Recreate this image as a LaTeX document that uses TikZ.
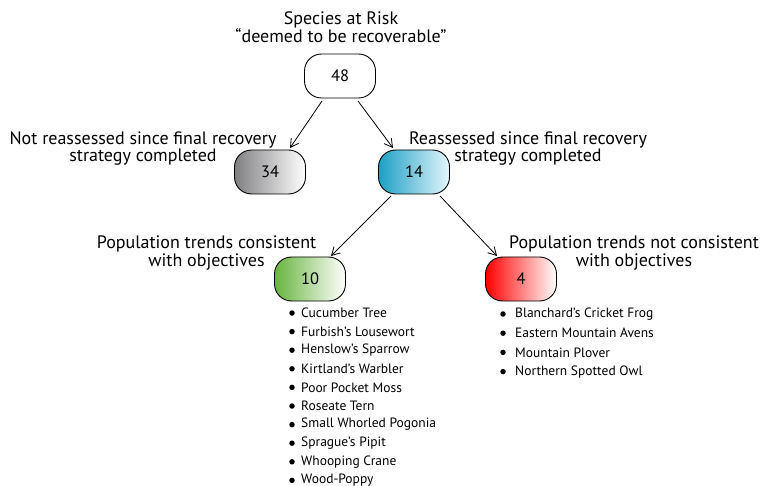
\documentclass[tikz,border=0pt]{standalone}
\usepackage{fontspec}
\setmainfont{PT Sans}
\usetikzlibrary{arrows.meta}
\definecolor{tealL}{RGB}{28,160,196}
\definecolor{tealR}{RGB}{228,246,251}
\definecolor{greenL}{RGB}{104,180,62}
\definecolor{grayL}{RGB}{128,128,132}
\begin{document}
\begin{tikzpicture}[x=1pt,y=-1pt,
  box/.style={draw=black, line width=0.9pt, rounded corners=17pt, minimum width=71pt, minimum height=44pt, inner sep=0pt, font=\fontsize{16.5}{18}\selectfont, right color=white},
  lbl/.style={font=\fontsize{18}{16}\selectfont, inner sep=0pt, align=center, anchor=base},
  item/.style={font=\fontsize{13.5}{15}\selectfont, anchor=west, inner sep=0pt},
  bul/.style={circle, fill=black, inner sep=0pt, minimum size=5.5pt},
  arr/.style={-{Straight Barb[length=8pt,width=9pt]}, line width=0.8pt}]
\useasboundingbox (0,0) rectangle (765,486);
\node[box, left color=white] (n48) at (340,76) {48};
\node[box, left color=grayL] (n34) at (270,172) {34};
\node[box, left color=tealL, right color=tealR] (n14) at (414,172) {14};
\node[box, left color=greenL, right color=white] (n10) at (310,279) {10};
\node[box, left color=red] (n4) at (521,279) {4};

\node[lbl] (t48) at (341,43) {Species at Risk\\“deemed to be recoverable”};
\node[lbl] (t34) at (143,162) {Not reassessed since final recovery\\strategy completed};
\node[lbl] (t14) at (528,162) {Reassessed since final recovery\\strategy completed};
\node[lbl] (t10) at (206.5,266) {Population trends consistent\\with objectives};
\node[lbl] (t4) at (634,266) {Population trends not consistent\\with objectives};

\draw[arr] (322,101) -- (290,148);
\draw[arr] (358,101) -- (393,148);
\draw[arr] (391,196) -- (331,256);
\draw[arr] (440,196) -- (497,256);

\foreach \t [count=\i] in {Cucumber Tree, Furbish’s Lousewort, Henslow’s Sparrow, Kirtland’s Warbler, Poor Pocket Moss, Roseate Tern, Small Whorled Pogonia, Sprague’s Pipit, Whooping Crane, Wood-Poppy} {
  \node[bul] (lb\i) at (292,{313+18.6*(\i-1)}) {};
  \node[item] (li\i) at (301,{313+18.6*(\i-1)}) {\t};
}
\foreach \t [count=\i] in {Blanchard’s Cricket Frog, Eastern Mountain Avens, Mountain Plover, Northern Spotted Owl} {
  \node[bul] (rb\i) at (503,{314+19.2*(\i-1)}) {};
  \node[item] (ri\i) at (515,{314+19.2*(\i-1)}) {\t};
}
\end{tikzpicture}
\end{document}
